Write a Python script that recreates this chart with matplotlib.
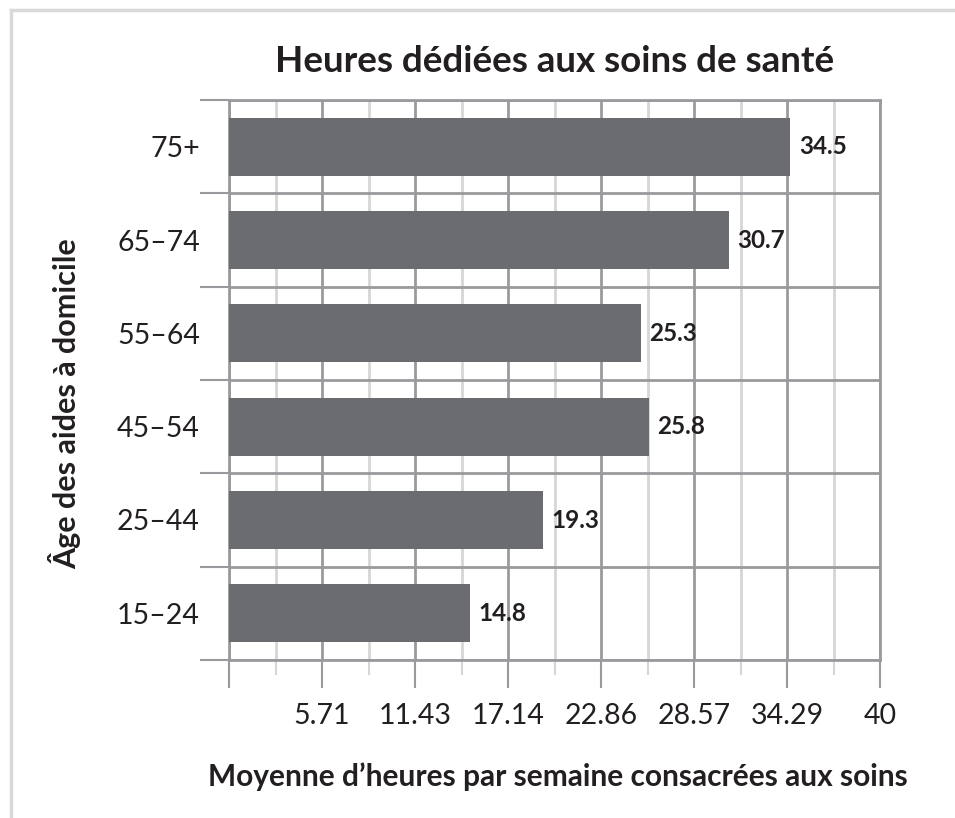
import numpy as np
import matplotlib
matplotlib.use("Agg")
import matplotlib.pyplot as plt
from matplotlib.lines import Line2D

plt.rcParams['font.family'] = ['Lato', 'DejaVu Sans']

# data
ages = ["15–24", "25–44", "45–54", "55–64", "65–74", "75+"]
hours = [14.8, 19.3, 25.8, 25.3, 30.7, 34.5]
xmax = 40
tick_labels = ["", "5.71", "11.43", "17.14", "22.86", "28.57", "34.29", "40"]

title = "Heures dédiées aux soins de santé"
xlab = "Moyenne d’heures par semaine consacrées aux soins"
ylab = "Âge des aides à domicile"

txt = "#231f20"
bar_col = "#6b6c70"
major_col = "#9a9a9e"
minor_col = "#d6d6d6"

W, H = 955, 818
fig = plt.figure(figsize=(W / 100, H / 100), dpi=100)
ax = fig.add_axes([229 / W, 1 - 660 / H, (880 - 229) / W, (660 - 100) / H])

y = np.arange(len(ages))
ax.barh(y, hours, height=0.62, color=bar_col, zorder=3)
for yi, v in zip(y, hours):
    ax.annotate(f"{v}", (v, yi), xytext=(6, 0), textcoords="offset points",
                va="center", ha="left", fontsize=17.5, fontweight="bold", color=txt)

ax.set_xlim(0, xmax)
ax.set_ylim(-0.5, len(ages) - 0.5)

major = np.linspace(0, xmax, 8)
ax.set_xticks(major)
ax.set_xticks((major[:-1] + major[1:]) / 2, minor=True)
ax.set_xticklabels(tick_labels)

ax.set_yticks(np.arange(len(ages) + 1) - 0.5)
ax.set_yticklabels([])
ax.set_yticks(y, minor=True)
ax.set_yticklabels(ages, minor=True)

ax.xaxis.grid(True, which="major", color=major_col, lw=2, zorder=1)
ax.xaxis.grid(True, which="minor", color=minor_col, lw=2, zorder=0)
ax.yaxis.grid(True, which="major", color=major_col, lw=2, zorder=1)
ax.set_axisbelow(True)

ax.tick_params(axis="x", which="major", direction="out", length=20, width=1.5,
               color=major_col, labelsize=20.5, labelcolor=txt, pad=11)
ax.tick_params(axis="x", which="minor", direction="out", length=11, width=1.5,
               color=minor_col)
ax.tick_params(axis="y", which="major", direction="out", length=21, width=1.5,
               color=major_col)
ax.tick_params(axis="y", which="minor", length=0, labelsize=20.5, labelcolor=txt, pad=21)

for s in ax.spines.values():
    s.set_color(major_col)
    s.set_linewidth(2)

fig.text((229 + 880) / 2 / W, 1 - 62 / H, title, ha="center", va="center",
         fontsize=26.5, fontweight="bold", color=txt)
fig.text(558 / W, 1 - 777 / H, xlab, ha="center", va="center",
         fontsize=21.5, fontweight="bold", color=txt)
fig.text(65 / W, 1 - 404 / H, ylab, ha="center", va="center", rotation=90,
         fontsize=22, fontweight="bold", color=txt)

# outer frame (only top and left edges visible)
fig.add_artist(Line2D([11 / W, 1], [1 - 10 / H, 1 - 10 / H], color="#d9d9d9", lw=2.5))
fig.add_artist(Line2D([11 / W, 11 / W], [0, 1 - 10 / H], color="#d9d9d9", lw=2.5))

fig.savefig("out.png", dpi=100)
